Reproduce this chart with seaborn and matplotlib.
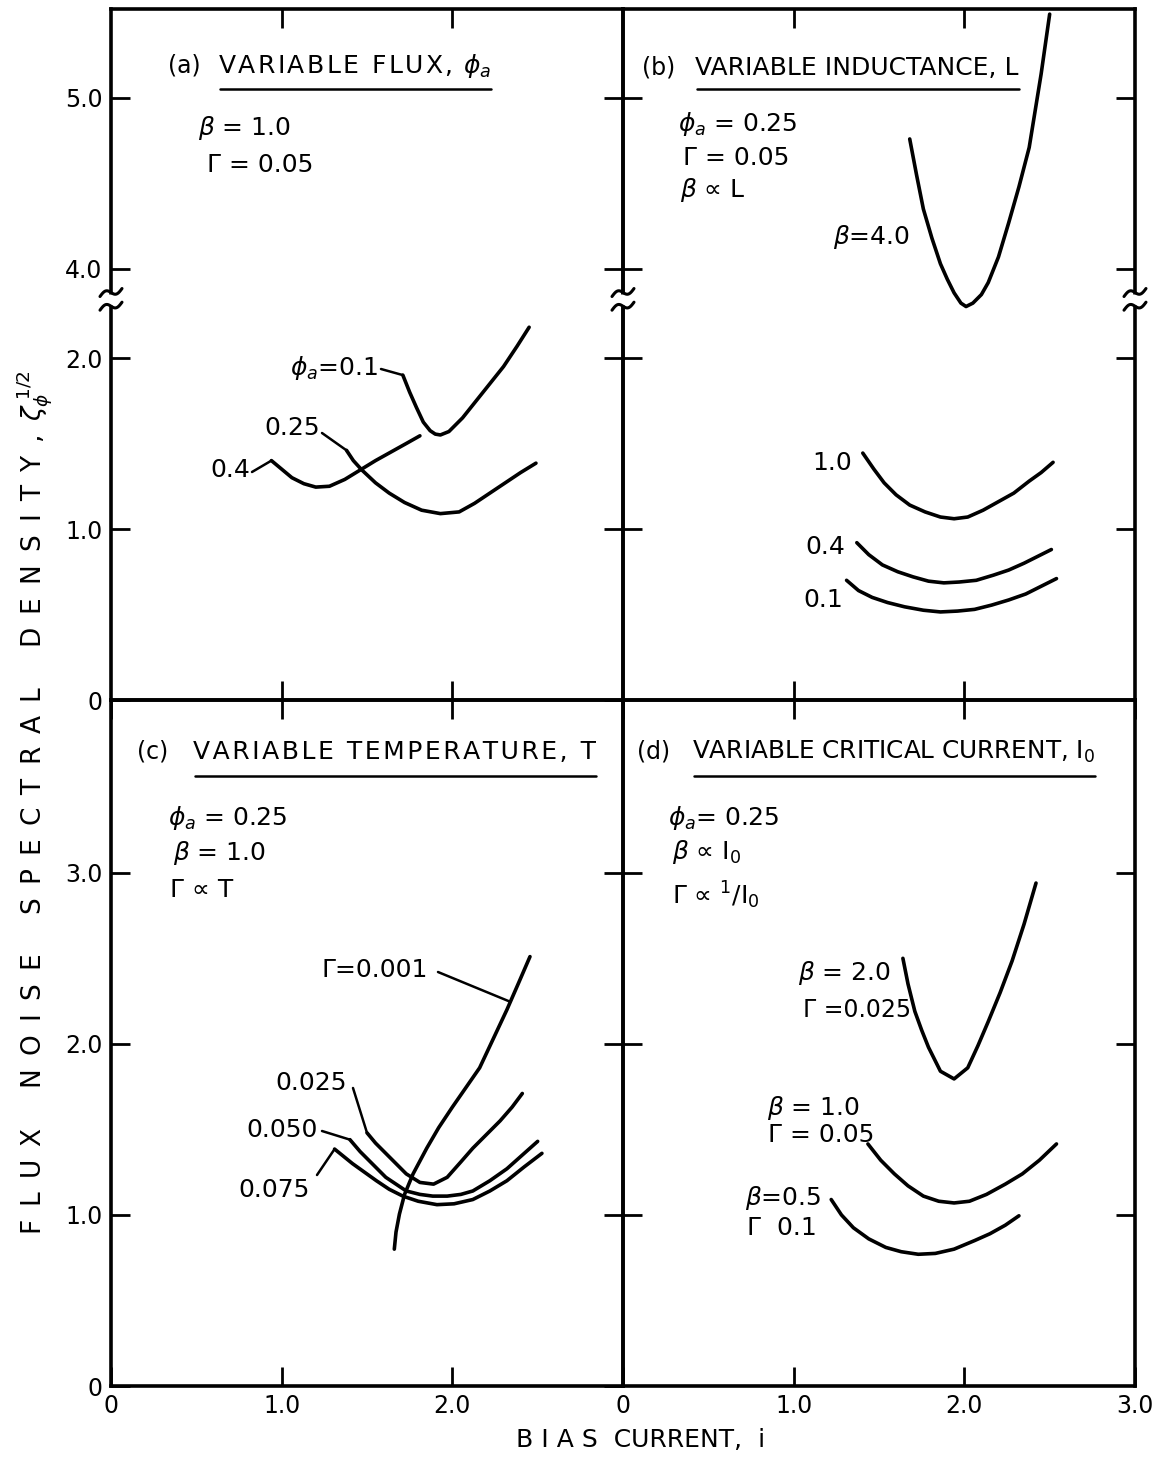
import numpy as np
import pandas as pd
import matplotlib
matplotlib.use("Agg")
import matplotlib.pyplot as plt
from matplotlib.lines import Line2D
import seaborn as sns

# ---------------- data ----------------
# (a) variable flux, phi_a  (beta = 1.0, Gamma = 0.05)
a_phi01_x = [1.71, 1.75, 1.79, 1.83, 1.87, 1.90, 1.93, 1.98, 2.06, 2.14, 2.22, 2.30, 2.38, 2.45]
a_phi01_y = [1.90, 1.80, 1.71, 1.625, 1.575, 1.555, 1.55, 1.57, 1.65, 1.75, 1.85, 1.95, 2.07, 2.18]
a_phi025_x = [1.38, 1.42, 1.47, 1.55, 1.63, 1.72, 1.82, 1.93, 2.04, 2.13, 2.22, 2.31, 2.40, 2.49]
a_phi025_y = [1.46, 1.40, 1.345, 1.27, 1.21, 1.155, 1.11, 1.09, 1.10, 1.15, 1.21, 1.27, 1.33, 1.385]
a_phi04_x = [0.94, 1.00, 1.06, 1.13, 1.20, 1.28, 1.37, 1.46, 1.55, 1.64, 1.73, 1.81]
a_phi04_y = [1.40, 1.35, 1.30, 1.265, 1.245, 1.25, 1.29, 1.345, 1.40, 1.45, 1.50, 1.545]

# (b) variable inductance, L
b_beta4_x = [1.68, 1.72, 1.76, 1.81, 1.86, 1.90, 1.94, 1.98, 2.01, 2.05, 2.10, 2.14,
             2.20, 2.26, 2.32, 2.38, 2.45, 2.50]
b_beta4_y = [4.76, 4.55, 4.35, 4.18, 4.03, 3.94, 3.86, 3.80, 3.78, 3.80, 3.85, 3.92,
             4.07, 4.27, 4.48, 4.71, 5.14, 5.49]
b_beta1_x = [1.405, 1.47, 1.53, 1.60, 1.68, 1.77, 1.86, 1.94, 2.02, 2.11, 2.20, 2.29, 2.38, 2.45, 2.52]
b_beta1_y = [1.444, 1.35, 1.27, 1.20, 1.14, 1.10, 1.07, 1.06, 1.07, 1.11, 1.16, 1.21, 1.28, 1.33, 1.39]
b_beta04_x = [1.37, 1.44, 1.52, 1.61, 1.70, 1.79, 1.88, 1.97, 2.07, 2.17, 2.26, 2.35, 2.43, 2.51]
b_beta04_y = [0.92, 0.85, 0.79, 0.75, 0.72, 0.695, 0.685, 0.69, 0.70, 0.73, 0.76, 0.80, 0.84, 0.88]
b_beta01_x = [1.31, 1.38, 1.46, 1.55, 1.65, 1.76, 1.86, 1.96, 2.06, 2.16, 2.26, 2.36, 2.45, 2.54]
b_beta01_y = [0.70, 0.64, 0.60, 0.57, 0.545, 0.525, 0.515, 0.52, 0.53, 0.555, 0.585, 0.62, 0.665, 0.71]

# (c) variable temperature, T
c_g0001_x = [1.66, 1.67, 1.69, 1.72, 1.77, 1.85, 1.92, 2.00, 2.08, 2.16, 2.24, 2.32, 2.39, 2.455]
c_g0001_y = [0.80, 0.90, 1.005, 1.12, 1.24, 1.39, 1.51, 1.63, 1.745, 1.86, 2.03, 2.20, 2.36, 2.51]
c_g0025_x = [1.50, 1.55, 1.61, 1.67, 1.73, 1.81, 1.89, 1.97, 2.05, 2.12, 2.20, 2.28, 2.35, 2.41]
c_g0025_y = [1.48, 1.42, 1.36, 1.30, 1.24, 1.19, 1.18, 1.22, 1.31, 1.39, 1.47, 1.55, 1.63, 1.71]
c_g0050_x = [1.40, 1.46, 1.515, 1.61, 1.73, 1.81, 1.885, 1.97, 2.05, 2.12, 2.22, 2.32, 2.41, 2.50]
c_g0050_y = [1.44, 1.37, 1.315, 1.22, 1.14, 1.12, 1.11, 1.11, 1.12, 1.14, 1.20, 1.27, 1.35, 1.43]
c_g0075_x = [1.31, 1.415, 1.555, 1.63, 1.71, 1.80, 1.91, 2.01, 2.12, 2.22, 2.32, 2.42, 2.525]
c_g0075_y = [1.385, 1.30, 1.20, 1.15, 1.11, 1.08, 1.06, 1.065, 1.09, 1.14, 1.20, 1.28, 1.36]

# (d) variable critical current, I0
d_b20_x = [1.64, 1.67, 1.71, 1.75, 1.79, 1.86, 1.94, 2.02, 2.08, 2.14, 2.21, 2.28, 2.35, 2.42]
d_b20_y = [2.50, 2.35, 2.19, 2.08, 1.98, 1.84, 1.795, 1.86, 1.99, 2.13, 2.30, 2.485, 2.70, 2.94]
d_b10_x = [1.435, 1.51, 1.59, 1.67, 1.76, 1.85, 1.94, 2.03, 2.13, 2.24, 2.34, 2.44, 2.54]
d_b10_y = [1.415, 1.32, 1.24, 1.17, 1.11, 1.08, 1.07, 1.08, 1.12, 1.18, 1.24, 1.32, 1.415]
d_b05_x = [1.22, 1.28, 1.35, 1.44, 1.54, 1.63, 1.73, 1.83, 1.94, 2.06, 2.15, 2.24, 2.32]
d_b05_y = [1.09, 1.00, 0.925, 0.86, 0.81, 0.785, 0.77, 0.775, 0.80, 0.85, 0.89, 0.94, 0.995]

top_yticks = [0, 1, 2, 4, 5]
top_ylabels = ["0", "1.0", "2.0", "4.0", "5.0"]
bot_yticks = [0, 1, 2, 3]
bot_ylabels = ["0", "1.0", "2.0", "3.0"]
left_xticks = [0, 1, 2]
left_xlabels = ["0", "1.0", "2.0"]
right_xticks = [0, 1, 2, 3]
right_xlabels = ["0", "1.0", "2.0", "3.0"]

# ---------------- style ----------------
sns.set_style("white")
plt.rcParams['font.family'] = ['DejaVu Sans']
plt.rcParams['mathtext.fontset'] = 'dejavusans'

W, H = 1169, 1457
fig = plt.figure(figsize=(W / 100, H / 100), dpi=100)
fig.patch.set_facecolor('white')


def fxy(x, y):
    return (x / W, 1 - y / H)


XL, XM, XR = 111, 623, 1135
YT, YM, YB = 9, 700, 1386
ax_a = fig.add_axes([XL / W, 1 - YM / H, (XM - XL) / W, (YM - YT) / H])
ax_b = fig.add_axes([XM / W, 1 - YM / H, (XR - XM) / W, (YM - YT) / H])
ax_c = fig.add_axes([XL / W, 1 - YB / H, (XM - XL) / W, (YB - YM) / H])
ax_d = fig.add_axes([XM / W, 1 - YB / H, (XR - XM) / W, (YB - YM) / H])

# broken y scale for the top panels
BRK, GAP, EPS = 2.25, 1.48, 0.001


def fwd(v):
    return np.interp(v, [-100, BRK, BRK + GAP, 100], [-100, BRK, BRK + EPS, 100 - GAP + EPS])


def inv(d):
    return np.interp(d, [-100, BRK, BRK + EPS, 100 - GAP + EPS], [-100, BRK, BRK + GAP, 100])


for ax in (ax_a, ax_b):
    ax.set_yscale('function', functions=(fwd, inv))

LW = 2.6


def draw(ax, curves):
    frames = [pd.DataFrame({'x': cx, 'y': cy, 'curve': name}) for name, (cx, cy) in curves.items()]
    df = pd.concat(frames, ignore_index=True)
    sns.lineplot(data=df, x='x', y='y', units='curve', estimator=None, color='black',
                 linewidth=LW, ax=ax, legend=False)
    ax.set_xlabel('')
    ax.set_ylabel('')


draw(ax_a, {'0.1': (a_phi01_x, a_phi01_y), '0.25': (a_phi025_x, a_phi025_y),
            '0.4': (a_phi04_x, a_phi04_y)})
draw(ax_b, {'4.0': (b_beta4_x, b_beta4_y), '1.0': (b_beta1_x, b_beta1_y),
            '0.4': (b_beta04_x, b_beta04_y), '0.1': (b_beta01_x, b_beta01_y)})
draw(ax_c, {'0.001': (c_g0001_x, c_g0001_y), '0.025': (c_g0025_x, c_g0025_y),
            '0.050': (c_g0050_x, c_g0050_y), '0.075': (c_g0075_x, c_g0075_y)})
draw(ax_d, {'2.0': (d_b20_x, d_b20_y), '1.0': (d_b10_x, d_b10_y), '0.5': (d_b05_x, d_b05_y)})

for ax in (ax_a, ax_b, ax_c, ax_d):
    ax.set_xlim(0, 3)
    ax.set_facecolor('none')
    ax.grid(False)
    for s in ax.spines.values():
        s.set_visible(True)
        s.set_linewidth(2.6)
        s.set_color('black')
    ax.tick_params(direction='in', length=14, width=2, top=True, right=True, bottom=True,
                   left=True, labelsize=17, pad=6, colors='black')

ax_a.set_ylim(0, 5.52)
ax_b.set_ylim(0, 5.52)
ax_c.set_ylim(0, 4.01)
ax_d.set_ylim(0, 4.01)

ax_a.set_yticks(top_yticks, top_ylabels)
ax_b.set_yticks(top_yticks[1:])
ax_c.set_yticks(bot_yticks, bot_ylabels)
ax_d.set_yticks(bot_yticks[1:])
ax_b.tick_params(labelleft=False)
ax_d.tick_params(labelleft=False)

ax_a.set_xticks([1, 2])
ax_b.set_xticks([1, 2])
ax_a.tick_params(labelbottom=False)
ax_b.tick_params(labelbottom=False)
ax_c.set_xticks(left_xticks, left_xlabels)
ax_d.set_xticks(right_xticks, right_xlabels)

# ---------------- texts ----------------
FS = 18
SP = "\u200A"


def spaced(s):
    return SP.join(s)


def put(x, y, s, ha='left', fs=FS, **kw):
    return fig.text(*fxy(x, y), s, ha=ha, va='center', fontsize=fs, color='black', **kw)


titles = []
put(168, 66, "(a)", fs=17)
titles.append((put(218, 66, spaced("VARIABLE FLUX,") + SP + " " + r"$\phi_a$", fs=18), 89))
put(642, 68, "(b)", fs=17)
titles.append((put(695, 68, "VARIABLE INDUCTANCE, L", fs=18), 89))
put(137, 752, "(c)", fs=17)
titles.append((put(193, 752, spaced("VARIABLE TEMPERATURE, T"), fs=18), 776))
put(637, 752, "(d)", fs=17)
titles.append((put(692, 752, r"VARIABLE CRITICAL CURRENT, $\mathrm{I}_0$", fs=17.8), 776))

# parameter blocks
put(198, 128, r"$\beta$ = 1.0")
put(207, 165, "Γ = 0.05")
put(678, 124, r"$\phi_a$ = 0.25")
put(683, 158, "Γ = 0.05")
put(680, 190, r"$\beta$ ∝ L")
put(168, 818, r"$\phi_a$ = 0.25")
put(173, 853, r"$\beta$ = 1.0")
put(170, 890, "Γ ∝ T")
put(668, 818, r"$\phi_a$= 0.25")
put(672, 852, r"$\beta$ ∝ $\mathrm{I}_0$")
put(672, 895, r"Γ ∝ ${}^{1}/\mathrm{I}_0$")

# curve labels
put(378, 368, r"$\phi_a$=0.1", ha='right')
put(320, 428, "0.25", ha='right')
put(250, 470, "0.4", ha='right')
put(833, 237, r"$\beta$=4.0")
put(852, 463, "1.0", ha='right')
put(845, 547, "0.4", ha='right')
put(843, 600, "0.1", ha='right')
put(428, 970, "Γ=0.001", ha='right')
put(347, 1083, "0.025", ha='right')
put(318, 1130, "0.050", ha='right')
put(310, 1190, "0.075", ha='right')
put(798, 973, r"$\beta$ = 2.0")
put(803, 1010, "Γ =0.025", fs=17)
put(767, 1108, r"$\beta$ = 1.0")
put(768, 1135, "Γ = 0.05")
put(745, 1198, r"$\beta$=0.5")
put(747, 1228, "Γ  0.1")


def leader(ax, frm, x, y):
    ax.annotate("", xy=(x, y), xycoords='data', xytext=fxy(*frm), textcoords='figure fraction',
                arrowprops=dict(arrowstyle='-', lw=1.8, color='black', shrinkA=0, shrinkB=0))


leader(ax_a, (381, 369), a_phi01_x[0], a_phi01_y[0])
leader(ax_a, (322, 433), a_phi025_x[0], a_phi025_y[0])
leader(ax_a, (252, 472), a_phi04_x[0], a_phi04_y[0])
leader(ax_c, (438, 972), 2.34, float(np.interp(2.34, c_g0001_x, c_g0001_y)))
leader(ax_c, (353, 1088), c_g0025_x[0], c_g0025_y[0])
leader(ax_c, (322, 1131), c_g0050_x[0], c_g0050_y[0])
leader(ax_c, (317, 1175), c_g0075_x[0], c_g0075_y[0])

# axis labels
EN = "\u2002"
ylab = EN.join("FLUX") + EN * 3 + EN.join("NOISE") + EN * 3 + \
       EN.join("SPECTRAL") + EN * 3 + EN.join("DENSITY,") + \
       EN + r"$\zeta_{\phi}^{\;1/2}$"
fig.text(*fxy(35, 1235), ylab, rotation=90, ha='center', va='bottom', fontsize=19, color='black')
fig.text(*fxy(641, 1440), "B I A S  CURRENT,  i", ha='center', va='center', fontsize=18, color='black')

# ---------------- axis breaks & underlines ----------------
fig.canvas.draw()
renderer = fig.canvas.get_renderer()
fw, fh = fig.bbox.width, fig.bbox.height


def add_px_line(xs, ys, **kw):
    fig.add_artist(Line2D(np.asarray(xs) / fw, np.asarray(ys) / fh, transform=fig.transFigure, **kw))


for ax, xa in ((ax_a, 0.0), (ax_a, 1.0), (ax_b, 1.0)):
    xd = ax.transAxes.transform((xa, 0))[0]
    y_hi = ax.transData.transform((0.5, 3.862))[1]
    y_lo = ax.transData.transform((0.5, 3.782))[1]
    add_px_line([xd, xd], [y_lo + 1, y_hi - 1], color='white', lw=5, solid_capstyle='butt', zorder=5)
    t = np.linspace(-1, 1, 40)
    for yc in (y_hi, y_lo):
        add_px_line(xd + 11 * t, yc + 4 * t - 3.5 * np.sin(np.pi * t), color='black', lw=2.2, zorder=6)

for txt, yline in titles:
    bb = txt.get_window_extent(renderer)
    yy = fh - yline
    add_px_line([bb.x0 + 2, bb.x1], [yy, yy], color='black', lw=1.8, zorder=6)

fig.savefig("out.png", dpi=100, facecolor='white')
